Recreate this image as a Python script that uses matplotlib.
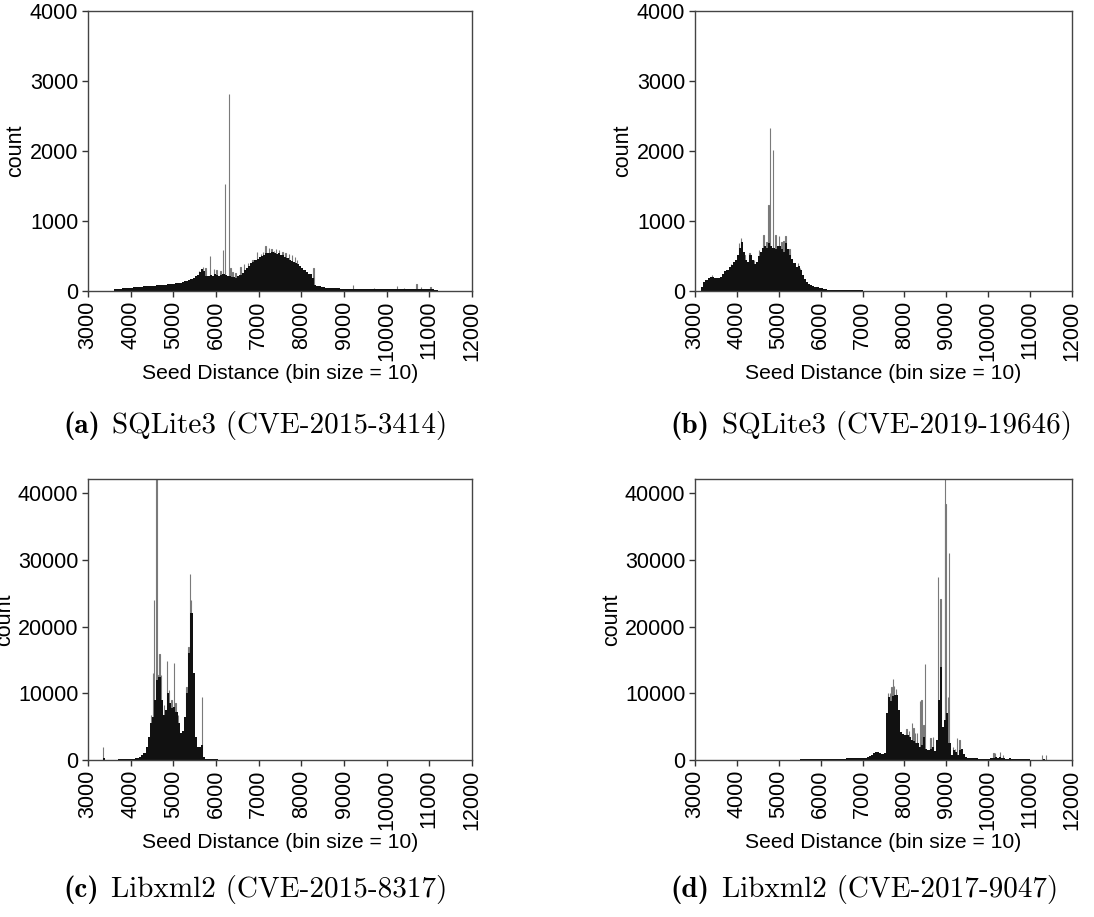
import numpy as np
import matplotlib.pyplot as plt

plt.rcParams['font.family'] = ['Liberation Sans', 'DejaVu Sans']

# ---- (a) SQLite3 CVE-2015-3414 : counts per 50 units starting at 3600 ----
a_start = 3600
a_counts = [30, 30, 35, 35, 40, 40, 45, 50, 50, 55,
            55, 60, 60, 60, 65, 65, 70, 70, 75, 75,
            80, 80, 85, 85, 90, 95, 95, 100, 105, 110,
            115, 120, 130, 140, 150, 160, 175, 190, 210, 230,
            270, 320, 280, 220, 210, 230, 220, 240, 230, 220,
            230, 240, 230, 220, 210, 200, 200, 190, 210, 230,
            260, 300, 330, 360, 400, 420, 440, 460, 480, 500,
            520, 540, 550, 540, 560, 550, 530, 540, 520, 510,
            490, 470, 450, 430, 420, 400, 380, 360, 330, 300,
            270, 250, 240, 180, 90, 75, 65, 60, 55, 50,
            45, 45, 40, 40, 38, 36, 35, 34, 33, 32,
            32, 32, 30, 30, 30, 28, 28, 28, 28, 28,
            28, 28, 28, 28, 28, 28, 28, 28, 30, 30,
            30, 30, 32, 32, 32, 33, 33, 34, 34, 34,
            35, 35, 35, 35, 35, 35, 35, 30, 30, 25, 20, 15]
a_peak_x = [5600, 5690, 5750, 5850, 5950, 6010, 6100, 6160, 6210, 6300,
            6330, 6380, 6450, 6570, 6650, 6750, 6850, 6960, 7050, 7100,
            7160, 7240, 7300, 7350, 7400, 7470, 7550, 7620, 7700, 7780,
            7850, 7900, 8280, 9210, 9700, 10240, 10400, 10690, 10800, 11020]
a_peak_y = [290, 340, 330, 500, 310, 300, 280, 590, 1530, 2820,
            330, 270, 260, 340, 380, 400, 440, 560, 530, 560,
            640, 620, 600, 570, 600, 580, 560, 540, 530, 520,
            480, 440, 330, 85, 45, 70, 50, 95, 55, 60]

# ---- (b) SQLite3 CVE-2019-19646 : counts per 50 units starting at 3150 ----
b_start = 3150
b_counts = [60, 130, 160, 180, 200, 200, 190, 180, 180, 200,
            240, 280, 300, 340, 370, 410, 450, 520, 620, 700,
            560, 450, 420, 510, 450, 390, 420, 500, 560, 620,
            650, 620, 680, 640, 620, 600, 650, 640, 600, 560,
            680, 600, 520, 460, 400, 350, 360, 300, 230, 170,
            130, 100, 80, 70, 60, 55, 45, 40, 30, 25,
            20, 15, 12, 10, 10, 9, 8]
b_tail_start = 6500  # counts per 500 units
b_tail = [8, 7, 6, 6, 5, 5, 5, 5, 5, 4, 4]
b_peak_x = [3400, 3850, 4040, 4090, 4180, 4300, 4400, 4520, 4630, 4700,
            4750, 4780, 4860, 4920, 5000, 5060, 5110, 5160, 5250, 5450, 5500]
b_peak_y = [230, 380, 680, 760, 520, 550, 450, 580, 800, 700,
            1230, 2330, 2020, 800, 780, 700, 720, 790, 600, 400, 330]

# ---- (c) Libxml2 CVE-2015-8317 : counts per 50 units starting at 3350 ----
c_start = 3350
c_counts = [300, 20, 20, 20, 20, 30, 40,
            100, 120, 120, 130, 140, 150, 160, 200,
            250, 350, 500, 700, 1100, 2000, 3500, 5500, 6500, 9000,
            12000, 12500, 9000, 6800, 7500, 10000, 8500, 7800, 8000, 7200,
            5500, 4000, 4300, 6500, 10000, 16000, 22000, 13000, 3500, 1900,
            2000, 2300, 400, 150,
            100, 90, 90, 80, 80, 70, 70, 60, 60, 60, 50, 50, 50, 40, 40, 30, 30]
c_peak_x = [3340, 4470, 4520, 4540, 4600, 4620, 4670, 4700, 4780, 4850,
            4900, 4950, 5010, 5050, 5100, 5300, 5350, 5380, 5410, 5670]
c_peak_y = [1900, 6800, 13000, 24000, 48000, 12800, 15900, 12700, 8300, 14800,
            10500, 9000, 14500, 8500, 6700, 11000, 17000, 27900, 23900, 9400]

# ---- (d) Libxml2 CVE-2017-9047 ----
d_lo_start = 3000  # counts per 500 units
d_lo = [30, 40, 50, 60, 70, 90]
d_start = 6000     # counts per 50 units
d_counts = [100, 110, 120, 130, 140, 150, 160, 170, 180, 190,
            200, 210, 230, 240, 250, 260, 270, 280, 290, 300,
            320, 350, 400, 550, 800, 1100, 1200, 1150, 1000, 950,
            1100, 7000, 9500, 8800, 9600, 9800, 9800, 7500, 4200, 3900,
            3800, 3700, 3400, 3000, 2800, 2600, 2500, 2000, 2200, 3500,
            1700, 1500, 1700, 2000, 1400, 3000, 9000, 14000, 5000, 6000,
            7000, 2500, 800, 1500, 1200, 700, 1500, 1700, 900, 400,
            300, 300, 300, 250, 250, 200, 150, 150, 150, 120,
            150, 250, 350, 400, 350, 400, 300, 250, 200, 150,
            250, 200, 150, 200, 150, 100, 100, 80, 80, 80,
            50, 40, 40, 40, 40, 60, 80, 60, 40, 30]
d_peak_x = [7600, 7650, 7690, 7720, 7750, 7800, 8040, 8100, 8170, 8210,
            8250, 8300, 8360, 8400, 8450, 8490, 8620, 8680, 8790, 8860,
            8960, 8980, 9040, 9060, 9150, 9200, 9250, 9310, 10120, 10160,
            10280, 10350, 11280, 11380]
d_peak_y = [10000, 10000, 11000, 12100, 11100, 10600, 4600, 4400, 5500, 4800,
            4000, 4100, 8900, 9000, 5300, 14400, 3300, 3500, 27400, 24100,
            48000, 38300, 9400, 31000, 2000, 1700, 3300, 3000, 1000, 1100,
            1150, 700, 750, 700]

captions = [("(a)", "SQLite3 (CVE-2015-3414)"),
            ("(b)", "SQLite3 (CVE-2019-19646)"),
            ("(c)", "Libxml2 (CVE-2015-8317)"),
            ("(d)", "Libxml2 (CVE-2017-9047)")]

W, H = 1094, 917
fig = plt.figure(figsize=(W / 100, H / 100), dpi=100)


def make_axes(left, top, right, bottom):
    return fig.add_axes([left / W, 1 - bottom / H, (right - left) / W, (bottom - top) / H])


def draw_bars(ax, start, step, counts):
    x = start + step * np.arange(len(counts))
    ax.bar(x, counts, width=step, align='edge', color='#111111', linewidth=0, zorder=2)


def draw_peaks(ax, px, py):
    ax.bar(px, py, width=10, align='edge', color='#7a7a7a', edgecolor='#7a7a7a',
           linewidth=0.8, zorder=1)


def style(ax, ymax, yticks, label_x):
    ax.set_xlim(3000, 12000)
    ax.set_ylim(0, ymax)
    ax.set_xticks(np.arange(3000, 12001, 1000))
    ax.set_yticks(yticks)
    ax.tick_params(axis='x', labelrotation=90)
    ax.tick_params(labelsize=15.5, length=4, width=1, color='#333333', pad=3)
    for s in ax.spines.values():
        s.set_color('#444444')
        s.set_linewidth(1)
    ax.set_xlabel("Seed Distance (bin size = 10)", fontsize=15.2, labelpad=2)
    ax.set_ylabel("count", fontsize=15.5)
    ax.yaxis.set_label_coords(label_x, 0.5)


ax_a = make_axes(88, 11, 472, 291)
draw_peaks(ax_a, a_peak_x, a_peak_y)
draw_bars(ax_a, a_start, 50, a_counts)
style(ax_a, 4000, [0, 1000, 2000, 3000, 4000], -0.161)

ax_b = make_axes(695, 11, 1072, 291)
draw_peaks(ax_b, b_peak_x, b_peak_y)
draw_bars(ax_b, b_start, 50, b_counts)
draw_bars(ax_b, b_tail_start, 500, b_tail)
style(ax_b, 4000, [0, 1000, 2000, 3000, 4000], -0.164)

ax_c = make_axes(88, 479, 472, 760)
draw_peaks(ax_c, c_peak_x, c_peak_y)
draw_bars(ax_c, c_start, 50, c_counts)
style(ax_c, 42100, [0, 10000, 20000, 30000, 40000], -0.19)

ax_d = make_axes(695, 479, 1072, 760)
draw_peaks(ax_d, d_peak_x, d_peak_y)
draw_bars(ax_d, d_lo_start, 500, d_lo)
draw_bars(ax_d, d_start, 50, d_counts)
style(ax_d, 42100, [0, 10000, 20000, 30000, 40000], -0.194)

# sub-figure captions
cap_pos = [(63, 426), (670, 426), (63, 890), (670, 890)]
for (tag, name), (cx, cy) in zip(captions, cap_pos):
    t = fig.text(cx / W, 1 - cy / H, tag, family='cmb10', fontsize=21,
                 ha='left', va='center')
    fig.add_artist(plt.Annotation(name, xy=(1, 0), xycoords=t, xytext=(9, 0),
                                  textcoords='offset points', family='cmr10',
                                  fontsize=21, ha='left', va='bottom'))

fig.savefig("out.png", dpi=100)
